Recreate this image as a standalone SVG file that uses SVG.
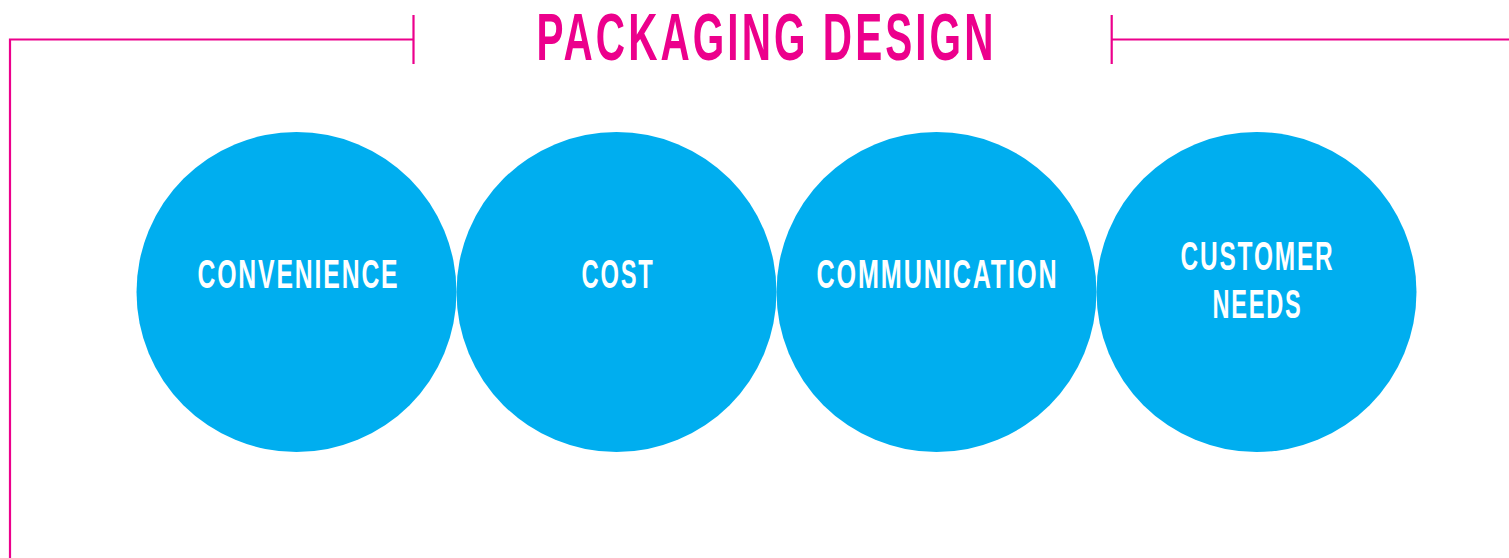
<svg xmlns="http://www.w3.org/2000/svg" width="1509" height="558" viewBox="0 0 1509 558">
  <style>
    .frame { fill: none; stroke: #EC008C; stroke-width: 2.2; }
    .title { font-family: "Liberation Sans", Arial, sans-serif; font-weight: bold; font-size: 66px; letter-spacing: 5px; fill: #EC008C; text-anchor: middle; }
    .bubble { fill: #00AEEF; }
    .label { font-family: "Liberation Sans", Arial, sans-serif; font-weight: bold; font-size: 40px; letter-spacing: 3px; fill: #FFFFFF; text-anchor: middle; }
  </style>

  <!-- bracket frame around the title -->
  <g id="frame">
    <path class="frame" d="M10,558 V39.5 H413.5"/>
    <path class="frame" d="M413.5,15 V64"/>
    <path class="frame" d="M1111.7,15 V64"/>
    <path class="frame" d="M1111.7,39.5 H1509"/>
  </g>

  <g id="title">
    <text class="title" x="766.5" y="60" textLength="460" lengthAdjust="spacingAndGlyphs">PACKAGING DESIGN</text>
  </g>

  <g id="connectors"></g>

  <g id="convenience">
    <circle class="bubble" cx="296.5" cy="292" r="160"/>
    <text class="label" x="298.5" y="288" textLength="202" lengthAdjust="spacingAndGlyphs">CONVENIENCE</text>
  </g>

  <g id="cost">
    <circle class="bubble" cx="616.5" cy="292" r="160"/>
    <text class="label" x="618" y="288" textLength="73" lengthAdjust="spacingAndGlyphs">COST</text>
  </g>

  <g id="communication">
    <circle class="bubble" cx="936.5" cy="292" r="160"/>
    <text class="label" x="937.5" y="288" textLength="242" lengthAdjust="spacingAndGlyphs">COMMUNICATION</text>
  </g>

  <g id="customer-needs">
    <circle class="bubble" cx="1256.5" cy="292" r="160"/>
    <text class="label" x="1257.5" y="270" textLength="154" lengthAdjust="spacingAndGlyphs">CUSTOMER</text>
    <text class="label" x="1257.5" y="318" textLength="90" lengthAdjust="spacingAndGlyphs">NEEDS</text>
  </g>
</svg>
